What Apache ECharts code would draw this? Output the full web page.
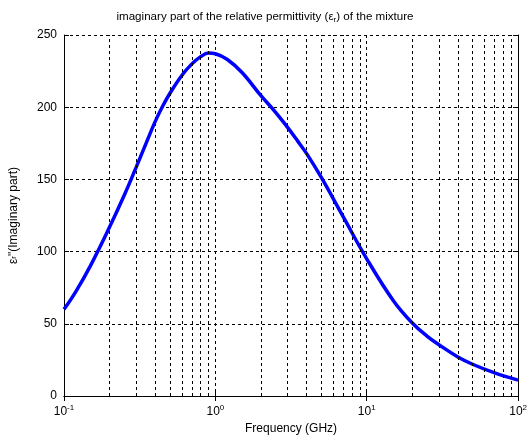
<!DOCTYPE html>
<html><head><meta charset="utf-8">
<script src="https://cdn.jsdelivr.net/npm/echarts@6/dist/echarts.min.js"></script>
<style>html,body{margin:0;padding:0;background:#fff}#c{width:530px;height:440px}</style>
</head><body><div id="c"></div>
<script>
const freq = [0.1,0.12,0.15,0.2,0.25,0.3,0.35,0.4,0.45,0.5,0.6,0.7,0.8,0.9,1.0,1.2,1.5,2,2.5,3,3.5,4,5,7,10,15,20,25,30,40,50,70,100];
const epsImag = [60,72.5,90.5,117,139,158.5,175.5,190,201,209.5,222,230,235,237.5,237,233,224,208,196.5,186,176.5,168,151.5,124,95,66,50.5,41.5,35.5,27,22,16,11];
const minorGrid = [0.2,0.3,0.4,0.5,0.6,0.7,0.8,0.9,2,3,4,5,6,7,8,9,20,30,40,50,60,70,80,90];

const FONT = 'Liberation Sans, Arial, sans-serif';
const chart = echarts.init(document.getElementById('c'));
const dash = {type:[3,3], color:'#000', width:1};
const supRich = {
  b:{fontSize:12, fontFamily:FONT, color:'#000'},
  sup:{fontSize:8, fontFamily:FONT, color:'#000', padding:[0,0,8,0]}
};
chart.setOption({
  animation:false,
  backgroundColor:'#fff',
  title:{
    text:'imaginary part of the relative permittivity (ε{sub|r}) of the mixture',
    left:'center', top:5,
    textStyle:{fontSize:11.6, fontWeight:'normal', fontFamily:FONT, color:'#000',
      rich:{sub:{fontSize:8, fontFamily:FONT, color:'#000', padding:[6,0,0,0]}}}
  },
  grid:{left:64, right:9, top:35, bottom:44},
  xAxis:[{
    type:'log', logBase:10, min:0.1, max:100,
    name:'Frequency (GHz)', nameLocation:'middle', nameGap:27,
    nameTextStyle:{fontSize:12, fontFamily:FONT, color:'#000'},
    axisLine:{lineStyle:{color:'#000', width:1}},
    axisTick:{inside:true, length:5, lineStyle:{color:'#000'}},
    axisLabel:{color:'#000', margin:8,
      formatter:v=>'{b|10}{sup|'+Math.round(Math.log10(v))+'}', rich:supRich},
    splitLine:{show:true, lineStyle:dash}
  },{
    type:'log', logBase:10, min:0.1, max:100, position:'top',
    axisLine:{show:true, lineStyle:{color:'#000'}},
    axisTick:{inside:true, length:5, lineStyle:{color:'#000'}},
    axisLabel:{show:false}, splitLine:{show:false}
  }],
  yAxis:[{
    type:'value', min:0, max:250, interval:50,
    name:'ε{sub|r}"(Imaginary part)', nameLocation:'middle', nameGap:44,
    nameTextStyle:{fontSize:12, fontFamily:FONT, color:'#000',
      rich:{sub:{fontSize:8, fontFamily:FONT, color:'#000'}}},
    axisLine:{show:true, lineStyle:{color:'#000'}},
    axisTick:{inside:true, length:5, lineStyle:{color:'#000'}},
    axisLabel:{color:'#000', fontSize:12, fontFamily:FONT, margin:7},
    splitLine:{show:true, lineStyle:dash}
  },{
    type:'value', min:0, max:250, interval:50, position:'right',
    axisLine:{show:true, lineStyle:{color:'#000'}},
    axisTick:{inside:true, length:5, lineStyle:{color:'#000'}},
    axisLabel:{show:false}, splitLine:{show:false}
  }],
  series:[{
    type:'line', data:freq.map((f,i)=>[f,epsImag[i]]),
    smooth:0.4, showSymbol:false,
    lineStyle:{color:'#0000ff', width:3.5},
    markLine:{silent:true, symbol:['none','none'], label:{show:false},
      lineStyle:{type:[3,3], color:'#000', width:1},
      data:minorGrid.map(v=>({xAxis:v}))}
  }]
});
</script></body></html>
